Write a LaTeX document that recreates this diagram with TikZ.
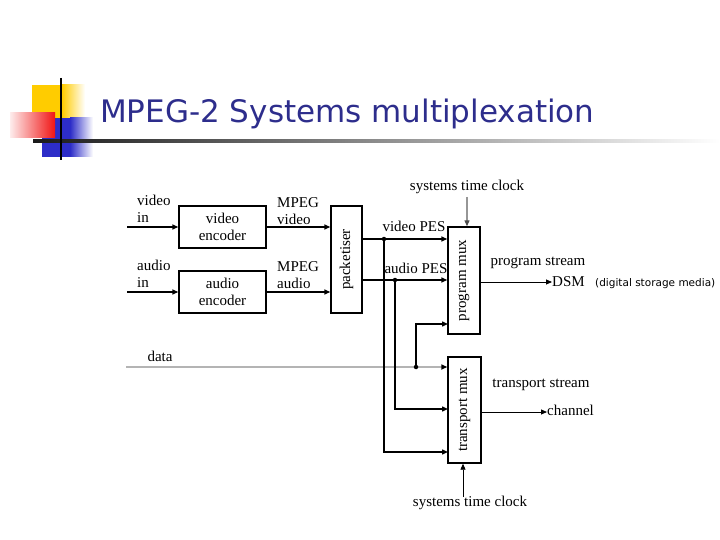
\documentclass[tikz,border=0pt]{standalone}
\usepackage{fontspec}
\usepackage{graphicx}
\setmainfont{Liberation Serif}
\newfontfamily\titlefont{DejaVu Sans}
\newfontfamily\notefont{DejaVu Sans}
\usetikzlibrary{arrows.meta}
\definecolor{titleblue}{RGB}{45,45,140}
\definecolor{gold}{RGB}{255,204,0}
\definecolor{blocblue}{RGB}{45,45,200}
\definecolor{redsq}{RGB}{240,20,20}
\definecolor{datagray}{RGB}{180,180,180}
\definecolor{clockgray}{RGB}{150,150,150}
\tikzset{
  blk/.style={draw, line width=1.4pt, inner sep=0pt, font=\fontsize{15}{17}\selectfont},
  lbl/.style={font=\fontsize{15}{17.5}\selectfont, inner sep=0pt, align=left},
  fat/.style={line width=1.4pt, -{Triangle[length=6pt,width=5pt]}},
  slim/.style={line width=0.8pt, -{Triangle[length=6pt,width=5pt]}},
  jdot/.style={circle, fill, inner sep=0pt, minimum size=4.5pt},
}
\begin{document}
\begin{tikzpicture}[x=1pt,y=-1pt]
\useasboundingbox (0,0) rectangle (720,540);
% title decoration
\fill[gold] (32,85) rectangle (62,121);
\shade[left color=gold, right color=white] (62,85) rectangle (85,121);
\fill[blocblue] (42,118) rectangle (70,157);
\shade[left color=blocblue, right color=white] (70,118) rectangle (93,157);
\shade[left color=redsq!8, right color=redsq] (10,113) rectangle (55,138);
\shade[left color=black!90, right color=white] (33,139.5) rectangle (720,142.5);
\draw[line width=2.5pt] (61,78) -- (61,160);
\node[anchor=base west, font=\titlefont\fontsize{31}{31}\selectfont, text=titleblue, inner sep=0pt] (title) at (100,122.5) {MPEG-2 Systems multiplexation};

% blocks
\node[blk, minimum width=87pt, minimum height=42pt, align=center] (venc) at (222.5,227) {video\\encoder};
\node[blk, minimum width=87pt, minimum height=42pt, align=center] (aenc) at (222.5,292) {audio\\encoder};
\node[blk, minimum width=31pt, minimum height=107pt] (pack) at (346.5,259.5) {\rotatebox{90}{packetiser}};
\node[blk, minimum width=32pt, minimum height=107pt] (pmux) at (464,280.5) {\rotatebox{90}{program mux}};
\node[blk, minimum width=33pt, minimum height=106pt] (tmux) at (464.5,410) {\rotatebox{90}{transport mux}};

% labels
\node[lbl, anchor=west] (lvin) at (137,209) {video\\in};
\node[lbl, anchor=west] (lain) at (137,274) {audio\\in};
\node[lbl, anchor=west] (lmv) at (277,211) {MPEG\\video};
\node[lbl, anchor=west] (lma) at (277,275) {MPEG\\audio};
\node[lbl] (lvpes) at (414,226) {video PES};
\node[lbl] (lapes) at (416,268) {audio PES};
\node[lbl] (lps) at (538,263) {program stream};
\node[lbl, anchor=west] (ldsm) at (552,282) {DSM};
\node[font=\notefont\fontsize{10.5}{12}\selectfont, inner sep=0pt, anchor=west] (lnote) at (595,284) {(digital storage media)};
\node[lbl] (ldata) at (160,356) {data};
\node[lbl] (lts) at (541,385) {transport stream};
\node[lbl, anchor=west] (lch) at (547,410) {channel};
\node[lbl] (clk1) at (467,187) {systems time clock};
\node[lbl] (clk2) at (470,503) {systems time clock};

% coordinates
\coordinate (vin) at (127,227);
\coordinate (ain) at (127,292);
\coordinate (din) at (126,367);
\coordinate (jv) at (384,239);
\coordinate (ja) at (395,280);
\coordinate (jd) at (416,367);
\coordinate (p3) at (448,324);
\coordinate (ta) at (448,409);
\coordinate (tv) at (448,452);
\coordinate (c1) at (467,197);
\coordinate (c2) at (463,497);

% connectors
\draw[fat] (vin) -- (venc.west);
\draw[fat] (ain) -- (aenc.west);
\draw[fat] (venc.east) -- (venc.east -| pack.west);
\draw[fat] (aenc.east) -- (aenc.east -| pack.west);
\draw[fat] (pack.east |- jv) -- (jv -| pmux.west);
\draw[fat] (pack.east |- ja) -- (ja -| pmux.west);
\draw[line width=2pt, datagray, -{Triangle[length=6pt,width=5pt,color=black]}] (din) -- (din -| tmux.west);
\draw[fat] (jd) |- (p3);
\draw[fat] (jv) |- (tv);
\draw[fat] (ja) |- (ta);
\node[jdot] at (jv) {};
\node[jdot] at (ja) {};
\node[jdot] at (jd) {};
\draw[slim] (pmux.east |- 0,282) -- (ldsm.west);
\draw[slim] (tmux.east |- 0,412) -- (lch.west |- 0,412);
\draw[line width=1.2pt, clockgray, -{Triangle[length=6pt,width=5pt,color=black!70]}] (c1) -- (c1 |- pmux.north);
\draw[slim] (c2) -- (c2 |- tmux.south);
\end{tikzpicture}
\end{document}
